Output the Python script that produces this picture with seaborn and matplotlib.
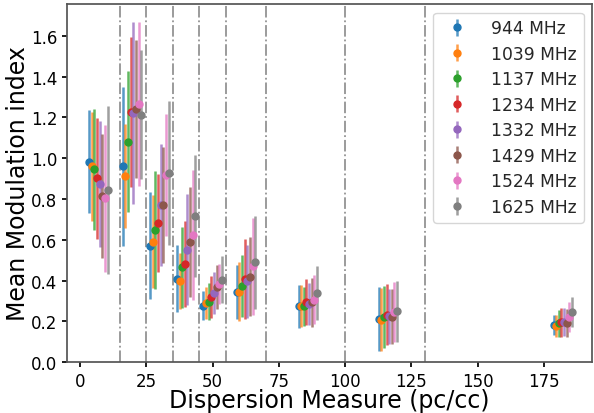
import numpy as np
import matplotlib
matplotlib.use('Agg')
import matplotlib.pyplot as plt
import seaborn as sns

# mean DM of each bin (first frequency), later frequencies get a small offset
dm_bins      = [3.4, 16.1, 26.4, 36.5, 46.5, 59.1, 82.4, 112.6, 178.6]
bin_edges    = [15, 25, 35, 45, 55, 70, 100, 130]
freq_labels  = ['944 MHz', '1039 MHz', '1137 MHz', '1234 MHz',
                '1332 MHz', '1429 MHz', '1524 MHz', '1625 MHz']

m_944   = [0.983, 0.960, 0.571, 0.410, 0.276, 0.342, 0.273, 0.211, 0.182]
m_1039  = [0.960, 0.913, 0.590, 0.399, 0.288, 0.345, 0.276, 0.208, 0.178]
m_1137  = [0.947, 1.081, 0.648, 0.465, 0.296, 0.373, 0.273, 0.219, 0.190]
m_1234  = [0.901, 1.225, 0.681, 0.481, 0.321, 0.407, 0.296, 0.232, 0.195]
m_1332  = [0.872, 1.222, 0.772, 0.551, 0.339, 0.396, 0.283, 0.224, 0.195]
m_1429  = [0.816, 1.242, 0.771, 0.587, 0.370, 0.419, 0.293, 0.222, 0.191]
m_1524  = [0.803, 1.266, 0.918, 0.624, 0.383, 0.469, 0.306, 0.244, 0.222]
m_1625  = [0.844, 1.214, 0.928, 0.718, 0.404, 0.489, 0.339, 0.249, 0.247]

e_944   = [0.254, 0.390, 0.262, 0.164, 0.071, 0.133, 0.107, 0.156, 0.048]
e_1039  = [0.268, 0.256, 0.228, 0.138, 0.078, 0.145, 0.102, 0.156, 0.055]
e_1137  = [0.297, 0.346, 0.290, 0.200, 0.092, 0.153, 0.097, 0.152, 0.067]
e_1234  = [0.298, 0.368, 0.241, 0.210, 0.103, 0.197, 0.113, 0.150, 0.071]
e_1332  = [0.309, 0.448, 0.299, 0.273, 0.105, 0.180, 0.103, 0.135, 0.068]
e_1429  = [0.303, 0.338, 0.285, 0.270, 0.108, 0.195, 0.119, 0.135, 0.069]
e_1524  = [0.359, 0.404, 0.300, 0.320, 0.099, 0.237, 0.119, 0.147, 0.074]
e_1625  = [0.412, 0.315, 0.352, 0.300, 0.114, 0.229, 0.131, 0.151, 0.074]

means   = [m_944, m_1039, m_1137, m_1234, m_1332, m_1429, m_1524, m_1625]
errs    = [e_944, e_1039, e_1137, e_1234, e_1332, e_1429, e_1524, e_1625]

sns.set_theme(style='ticks', palette='tab10',
              rc={'xtick.major.size': 3.5, 'ytick.major.size': 3.5,
                  'xtick.major.pad': 3.5, 'ytick.major.pad': 3.5})
plt.rcParams['font.family'] = ['DejaVu Sans']
colors  = sns.color_palette('tab10', len(freq_labels))

fig, ax = plt.subplots(figsize=(5.94, 4.14), dpi=100)
fig.subplots_adjust(left=0.113, right=0.997, bottom=0.123, top=0.988)

for edge in bin_edges:
    ax.axvline(edge, color='gray', ls='-.', lw=1.3, alpha=0.85)

for i, (lab, m, e) in enumerate(zip(freq_labels, means, errs)):
    x = np.array(dm_bins) + i * 1.0
    eb = ax.errorbar(x, m, yerr=e, fmt='o', color=colors[i], ms=5,
                     elinewidth=1.8, label=lab)
    for bar in eb[2]:
        bar.set_alpha(0.75)

ax.set_xlim(-4.9, 193.2)
ax.set_ylim(0, 1.757)
ax.set_xticks([0, 25, 50, 75, 100, 125, 150, 175])
ax.set_yticks(np.arange(0, 1.61, 0.2))
ax.tick_params(labelsize=12, colors='black')
for sp in ax.spines.values():
    sp.set_color('#555555')
ax.set_xlabel('Dispersion Measure (pc/cc)', fontsize=17, color='black', labelpad=-1)
ax.set_ylabel('Mean Modulation index', fontsize=17, color='black', labelpad=1)
ax.legend(loc='upper right', fontsize=12.3, frameon=True, labelspacing=0.44,
          handletextpad=1.0)

fig.savefig('out.png', dpi=100)
